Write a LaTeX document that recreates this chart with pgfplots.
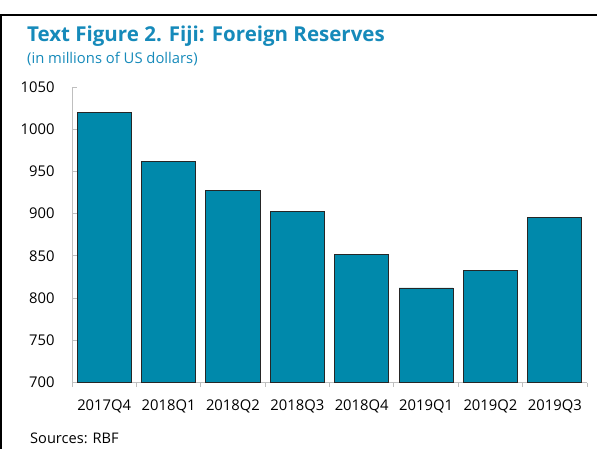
\documentclass[border=0pt]{standalone}
\usepackage{pgfplots}
\pgfplotsset{compat=1.18}
\usepackage{fontspec}
\setmainfont{Open Sans}

\definecolor{barfill}{RGB}{0,137,171}
\definecolor{titleblue}{RGB}{22,138,186}
\definecolor{axisgray}{RGB}{191,191,191}

\begin{document}
\begin{tikzpicture}
\path[use as bounding box] (0,0) rectangle (597pt,-449pt);
% frame
\draw[line width=2pt] (0,-15pt) -- (597pt,-15pt);
\draw[line width=2pt] (1pt,-15pt) -- (1pt,-449pt);
% titles
\node[anchor=base west, text=titleblue, inner sep=0pt] at (27pt,-42pt)
  {\fontsize{20.5}{24}\selectfont\bfseries Text Figure 2. Fiji: Foreign Reserves};
\node[anchor=base west, text=titleblue, inner sep=0pt] at (27pt,-64pt)
  {\fontsize{14.8}{17}\selectfont (in millions of US dollars)};
\node[anchor=base west, inner sep=0pt] at (30pt,-443pt)
  {\fontsize{14.6}{17}\selectfont Sources: RBF};

\begin{axis}[
    at={(72pt,-382.5pt)}, anchor=south west,
    scale only axis,
    width=515pt, height=295.5pt,
    axis lines*=left,
    axis line style={axisgray, line width=0.8pt},
    ymin=700, ymax=1050,
    ytick={700,750,...,1050},
    xmin=-0.5, xmax=7.5,
    xtick={0,...,7},
    xticklabels={2017Q4,2018Q1,2018Q2,2018Q3,2018Q4,2019Q1,2019Q2,2019Q3},
    minor xtick={-0.5,0.5,...,7.5},
    tick align=inside,
    major tick length=5pt,
    minor tick length=4pt,
    tick style={axisgray, line width=0.8pt},
    major x tick style={draw=none},
    ticklabel style={font=\fontsize{14.8}{17}\selectfont},
    yticklabel style={xshift=-14pt},
    xticklabel style={yshift=-9pt},
    /pgf/number format/assume math mode=true,
    /pgf/number format/1000 sep={},
    ybar, bar width=0.84,
]
\addplot[fill=barfill, draw=black!85, line width=0.8pt] coordinates {
(0,1020) (1,962) (2,927) (3,903) (4,852) (5,812) (6,833) (7,896)
};
\end{axis}
\end{tikzpicture}
\end{document}
